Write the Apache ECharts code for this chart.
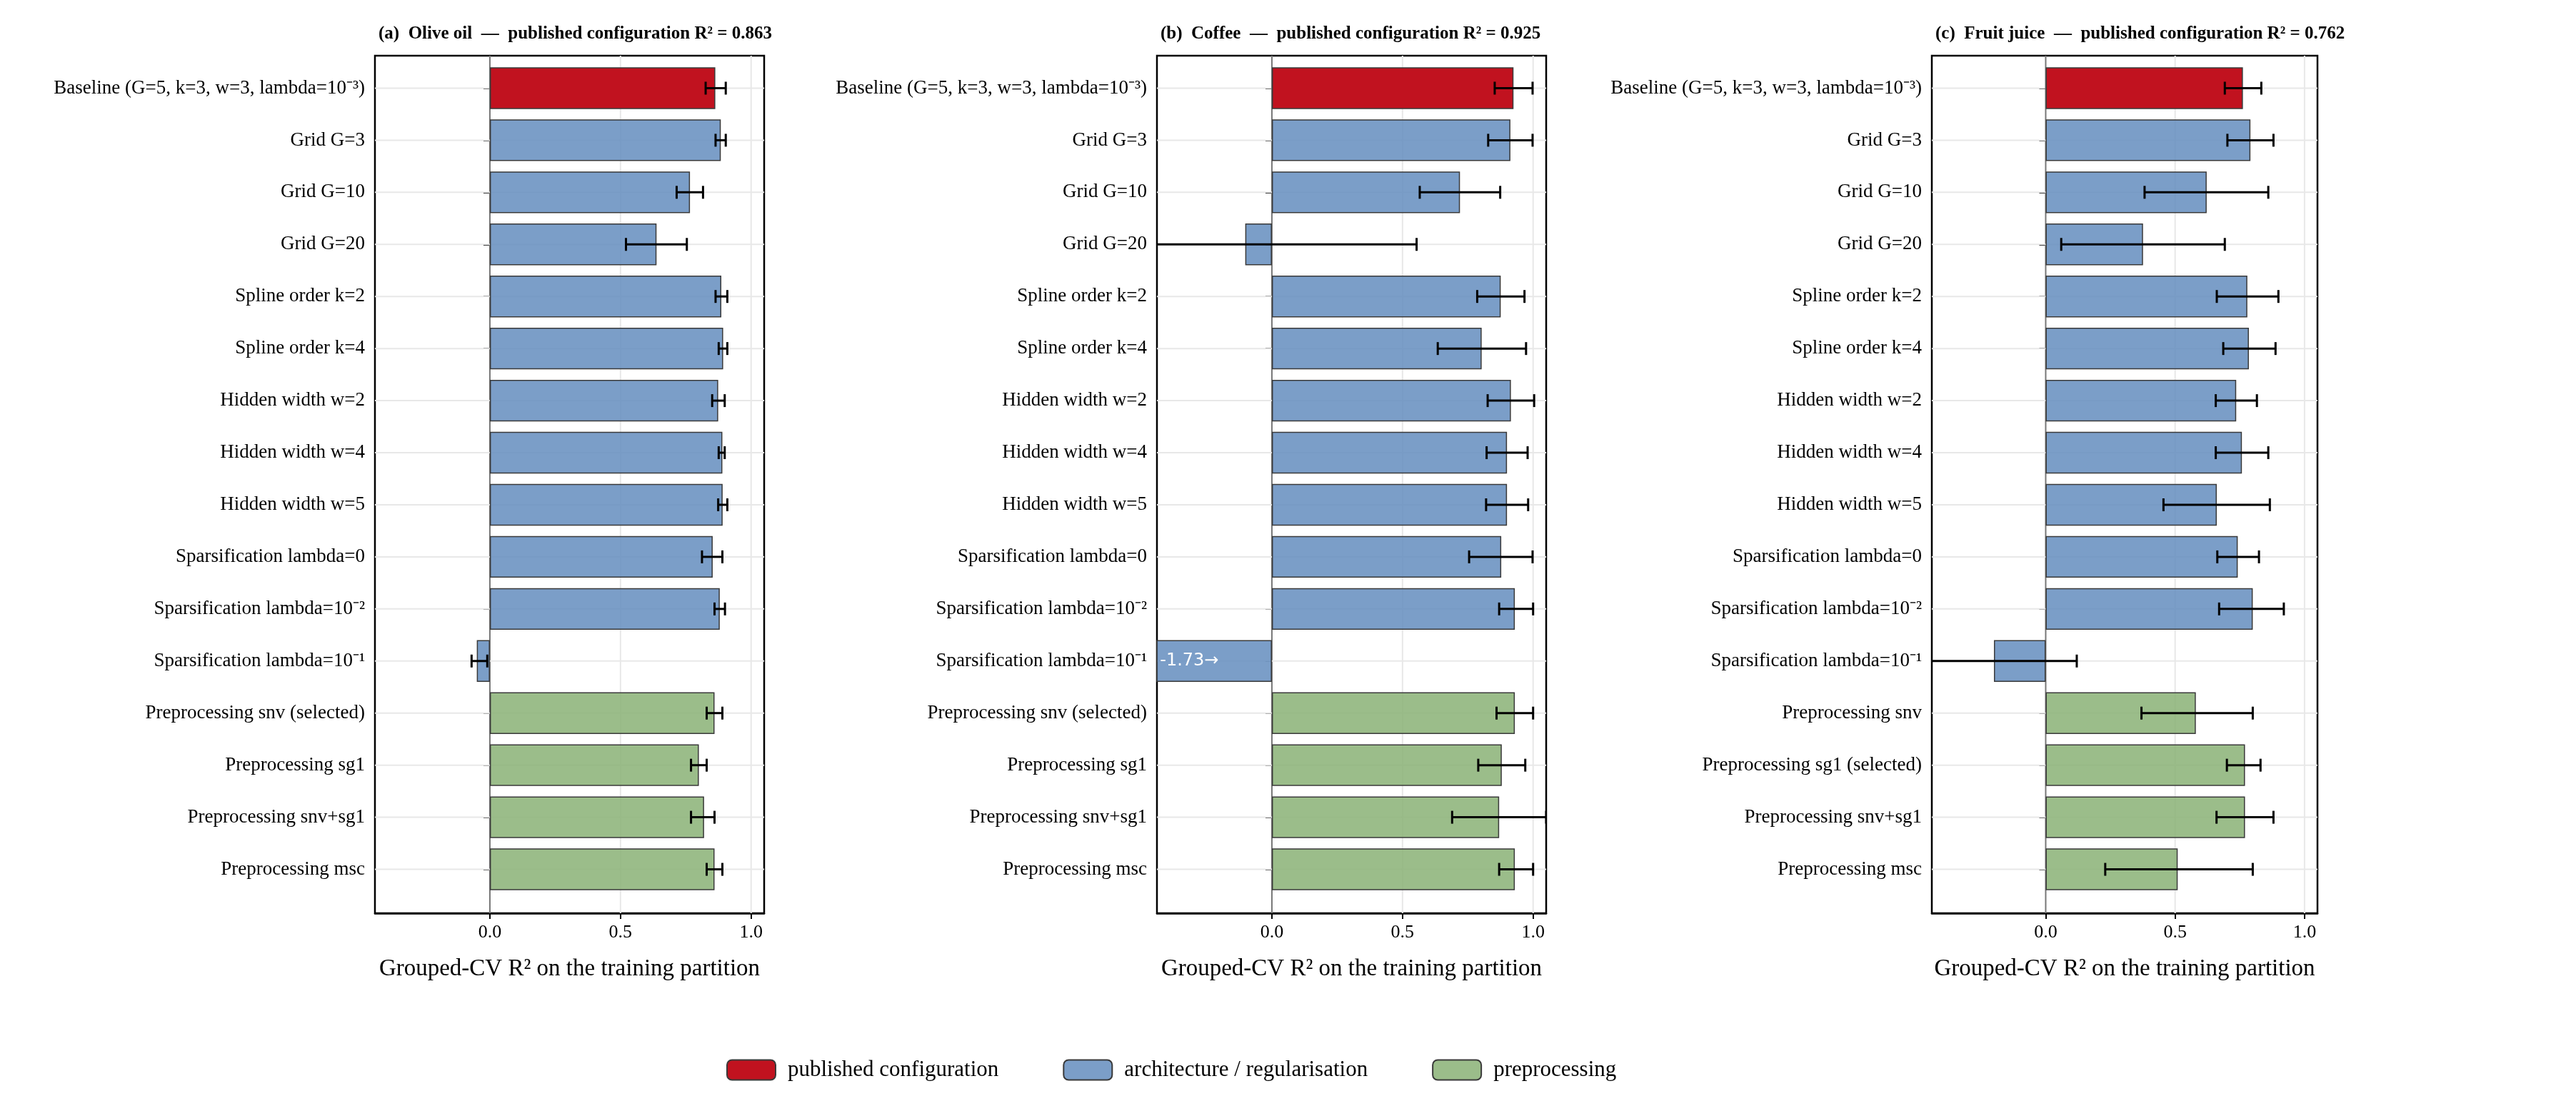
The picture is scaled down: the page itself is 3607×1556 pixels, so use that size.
<!DOCTYPE html>
<html><head><meta charset="utf-8">
<script src="https://cdn.jsdelivr.net/npm/echarts@6/dist/echarts.min.js"></script>
<style>html,body{margin:0;padding:0;background:#fff}#c{width:3607px;height:1556px}</style>
</head><body><div id="c"></div>
<script>
const categoriesA = ["Baseline (G=5, k=3, w=3, lambda=10⁻³)","Grid G=3","Grid G=10","Grid G=20","Spline order k=2","Spline order k=4","Hidden width w=2","Hidden width w=4","Hidden width w=5","Sparsification lambda=0","Sparsification lambda=10⁻²","Sparsification lambda=10⁻¹","Preprocessing snv (selected)","Preprocessing sg1","Preprocessing snv+sg1","Preprocessing msc"];
const categoriesC = ["Baseline (G=5, k=3, w=3, lambda=10⁻³)","Grid G=3","Grid G=10","Grid G=20","Spline order k=2","Spline order k=4","Hidden width w=2","Hidden width w=4","Hidden width w=5","Sparsification lambda=0","Sparsification lambda=10⁻²","Sparsification lambda=10⁻¹","Preprocessing snv","Preprocessing sg1 (selected)","Preprocessing snv+sg1","Preprocessing msc"];
const groups = ["published configuration","architecture / regularisation","architecture / regularisation","architecture / regularisation","architecture / regularisation","architecture / regularisation","architecture / regularisation","architecture / regularisation","architecture / regularisation","architecture / regularisation","architecture / regularisation","architecture / regularisation","preprocessing","preprocessing","preprocessing","preprocessing"];
const panelTitles = ["(a)  Olive oil  —  published configuration R² = 0.863","(b)  Coffee  —  published configuration R² = 0.925","(c)  Fruit juice  —  published configuration R² = 0.762"];
const published = [0.863, 0.925, 0.762];
const oliveMean = [0.863,0.884,0.766,0.638,0.886,0.893,0.874,0.89,0.891,0.853,0.88,-0.05,0.86,0.80,0.82,0.86];
const oliveLo   = [0.826,0.864,0.715,0.521,0.864,0.876,0.851,0.876,0.874,0.812,0.86,-0.07,0.83,0.77,0.77,0.83];
const oliveHi   = [0.903,0.903,0.816,0.754,0.909,0.909,0.899,0.899,0.909,0.89,0.90,-0.01,0.89,0.83,0.86,0.89];
const coffeeMean = [0.925,0.913,0.72,-0.102,0.876,0.803,0.915,0.90,0.90,0.878,0.93,-1.73,0.93,0.88,0.87,0.93];
const coffeeLo   = [0.853,0.828,0.566,-0.60,0.786,0.635,0.826,0.822,0.82,0.755,0.87,null,0.86,0.79,0.69,0.87];
const coffeeHi   = [0.998,0.998,0.874,0.554,0.967,0.973,1.004,0.979,0.981,0.998,1.0,null,1.0,0.97,1.05,1.0];
const juiceMean = [0.762,0.791,0.622,0.376,0.779,0.785,0.736,0.758,0.661,0.742,0.80,-0.20,0.58,0.77,0.77,0.51];
const juiceLo   = [0.692,0.702,0.382,0.06,0.661,0.686,0.657,0.657,0.455,0.663,0.67,-0.50,0.37,0.70,0.66,0.23];
const juiceHi   = [0.833,0.88,0.86,0.692,0.899,0.888,0.816,0.86,0.866,0.824,0.92,0.12,0.80,0.83,0.88,0.80];
const xTicks = [0, 0.5, 1];
const X_MIN = -0.44, X_MAX = 1.05;

const colors = {"published configuration":"#c1121f","architecture / regularisation":"rgba(100,141,190,0.85)","preprocessing":"rgba(138,178,118,0.85)"};
const legendNames = ["published configuration","architecture / regularisation","preprocessing"];
const F = "Liberation Serif";
const panels = [
  {cats:categoriesA, m:oliveMean, lo:oliveLo, hi:oliveHi, left:525, width:545},
  {cats:categoriesA, m:coffeeMean, lo:coffeeLo, hi:coffeeHi, left:1620, width:545},
  {cats:categoriesC, m:juiceMean, lo:juiceLo, hi:juiceHi, left:2705, width:540}
];
const grid=[], xAxis=[], yAxis=[], series=[], title=[];
const FT=78, FB=1279, DT=87, DB=1254;
panels.forEach((p,i)=>{
  const d=2*i, f=2*i+1;
  grid.push({left:p.left, width:p.width, top:DT, height:DB-DT});
  grid.push({left:p.left, width:p.width, top:FT, height:FB-FT, show:true, borderColor:'#000', borderWidth:2.5, backgroundColor:'transparent'});
  title.push({text:panelTitles[i], left:p.left, top:30, textStyle:{fontFamily:F, fontWeight:'bold', fontSize:25, color:'#000'}});
  xAxis.push({gridIndex:d, type:'value', min:X_MIN, max:X_MAX, show:false});
  xAxis.push({gridIndex:f, type:'value', min:X_MIN, max:X_MAX,
    name:'Grouped-CV R² on the training partition', nameLocation:'middle', nameGap:62,
    nameTextStyle:{fontFamily:F, fontSize:33, color:'#000'},
    axisLine:{show:true, lineStyle:{color:'#000', width:2.5}},
    axisTick:{show:true, customValues:xTicks, length:8, lineStyle:{color:'#000', width:2}},
    axisLabel:{customValues:xTicks, fontFamily:F, fontSize:26, color:'#000', margin:14, formatter:v=>v.toFixed(1)},
    splitLine:{show:false}});
  yAxis.push({gridIndex:d, type:'category', inverse:true, data:p.cats,
    axisLine:{show:false},
    axisTick:{show:true, alignWithLabel:true, length:9, lineStyle:{color:'#000', width:2}},
    axisLabel:{fontFamily:F, fontSize:27, color:'#000', margin:14}, splitLine:{show:false}});
  yAxis.push({gridIndex:f, type:'value', show:false});
  // background gridlines
  series.push({type:'custom', xAxisIndex:d, yAxisIndex:d, z:1, silent:true, data:p.m.map((v,k)=>[0,k]),
    renderItem:(params,api)=>{const c=api.coord([0,api.value(1)]);const cs=params.coordSys;
      const ch=[{type:'line', shape:{x1:cs.x,y1:c[1],x2:cs.x+cs.width,y2:c[1]}, style:{stroke:'#e8e8e8', lineWidth:2}}];
      if(params.dataIndex===0){
        xTicks.forEach(t=>{const x=api.coord([t,0])[0];
          ch.push({type:'line', shape:{x1:x,y1:FT,x2:x,y2:FB}, style:{stroke:t===0?'#777':'#e8e8e8', lineWidth:2}});});
      }
      return {type:'group', children:ch};}});
  legendNames.forEach((g,gi)=>{
    series.push({type:'bar', name:g, xAxisIndex:d, yAxisIndex:d, stack:'s'+i, barWidth:'80%', z:3,
      itemStyle:{color:colors[g], borderColor:'#3a3a3a', borderWidth:1.5},
      data:p.m.map((v,k)=>{ if(groups[k]!==g) return '-';
        if(v<X_MIN) return {value:v, label:{show:true, position:'insideLeft', formatter:v.toFixed(2)+'→', color:'#fff', fontFamily:'DejaVu Sans', fontSize:24}};
        return v; }),
      markLine: gi===0 ? {silent:true, symbol:'none', label:{show:false}, data:[
        [{coord:[published[i],-0.6]},{coord:[published[i],15.6]}]
      ], lineStyle:{color:'#c1121f', width:3, type:[12,7]}} : undefined
    });
  });
  series.push({type:'custom', xAxisIndex:d, yAxisIndex:d, z:10, clip:true, silent:true,
    data:p.m.map((v,k)=>[p.lo[k],p.hi[k],k]).filter(q=>q[0]!==null),
    renderItem:(params,api)=>{const a=api.coord([api.value(0),api.value(2)]);const b=api.coord([api.value(1),api.value(2)]);const h=9;
      return {type:'group', children:[
        {type:'line', shape:{x1:a[0],y1:a[1],x2:b[0],y2:b[1]}, style:{stroke:'#000', lineWidth:3}},
        {type:'line', shape:{x1:a[0],y1:a[1]-h,x2:a[0],y2:a[1]+h}, style:{stroke:'#000', lineWidth:3}},
        {type:'line', shape:{x1:b[0],y1:b[1]-h,x2:b[0],y2:b[1]+h}, style:{stroke:'#000', lineWidth:3}}]};}});
});
const chart = echarts.init(document.getElementById('c'));
chart.setOption({animation:false, backgroundColor:'#fff', title, grid, xAxis, yAxis, series,
  legend:{data:legendNames, top:1478, left:1012, itemGap:90, itemWidth:68, itemHeight:28,
    textStyle:{fontFamily:F, fontSize:31, color:'#000', padding:[0,0,0,12]}}});
</script></body></html>
